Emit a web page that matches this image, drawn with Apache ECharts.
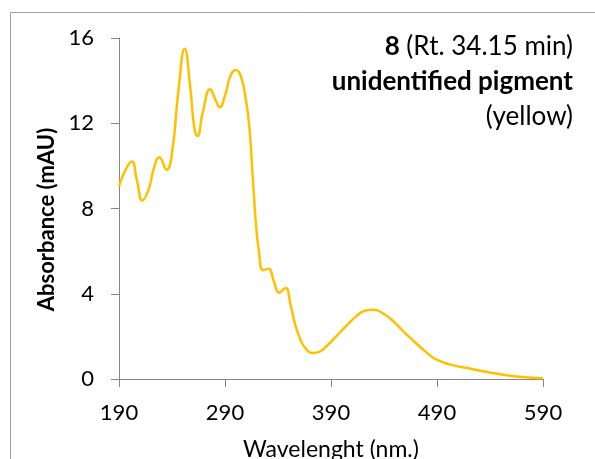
<!DOCTYPE html>
<html>
<head>
<meta charset="utf-8">
<script src="https://cdn.jsdelivr.net/npm/echarts@6/dist/echarts.min.js"></script>
<style>
  html, body { margin: 0; padding: 0; background: #fff; }
  #chart { width: 595px; height: 459px; }
</style>
</head>
<body>
<div id="chart"></div>
<script>
// wavelength (nm) and absorbance (mAU)
const wavelength = [190, 196, 202, 207, 212, 218, 223, 228, 235, 240, 246, 252, 257, 261, 264, 269, 276, 281, 285, 290,
  295, 300, 305, 310, 313, 316, 319, 322, 326, 331, 336, 341, 347, 352, 356, 360, 365, 373, 379, 384,
  394, 404, 414, 422, 430, 440, 450, 460, 470, 480, 490, 505, 520, 535, 550, 565, 580, 590]
const absorbance = [9.05, 9.8, 10.2, 9.3, 8.38, 8.9, 9.9, 10.4, 9.82, 10.6, 13.5, 15.5, 13.8, 11.8, 11.4, 12.5, 13.6, 13.1, 12.75, 13.3,
  14.2, 14.5, 14.2, 13.0, 11.8, 9.6, 7.4, 6.0, 5.1, 5.17, 4.6, 4.05, 4.27, 3.45, 2.6, 2.0, 1.5, 1.22, 1.27, 1.45,
  1.95, 2.47, 2.95, 3.2, 3.25, 3.05, 2.65, 2.15, 1.69, 1.25, 0.9, 0.65, 0.5, 0.35, 0.22, 0.12, 0.06, 0.04]
const xTicks = [190, 290, 390, 490, 590]

const font = 'Lato, "Open Sans", sans-serif'
const axisGray = '#878787'

const chart = echarts.init(document.getElementById('chart'))

chart.setOption({
  backgroundColor: '#fff',
  animation: false,
  grid: { left: 119, right: 52, top: 38, bottom: 80, outerBoundsMode: 'none', containLabel: false },
  graphic: [
    {
      type: 'rect',
      shape: { x: 10.5, y: 12.5, width: 620, height: 480 },
      style: { fill: 'none', stroke: '#a0a0a0', lineWidth: 1 },
      silent: true,
    },
    {
      type: 'text',
      x: 573,
      y: 29,
      style: {
        text: '{b|8} (Rt. 34.15 min)\n{b|unidentified pigment}\n(yellow)',
        align: 'right',
        font: '26px ' + font,
        fill: '#000',
        lineHeight: 35,
        rich: {
          b: { fontWeight: 'bold', fontSize: 26, fontFamily: font, lineHeight: 35 },
        },
      },
    },
  ],
  xAxis: {
    type: 'value',
    min: 190,
    max: 590,
    name: 'Wavelenght (nm.)',
    nameLocation: 'middle',
    nameGap: 59,
    nameTextStyle: { fontFamily: font, fontSize: 23, color: '#000' },
    splitLine: { show: false },
    axisLine: { onZero: false, lineStyle: { color: axisGray, width: 1 } },
    axisTick: { show: true, length: 8, lineStyle: { color: axisGray }, customValues: xTicks },
    axisLabel: { fontFamily: font, fontSize: 22, color: '#000', margin: 23, customValues: xTicks },
  },
  yAxis: {
    type: 'value',
    min: 0,
    max: 16,
    interval: 4,
    name: 'Absorbance (mAU)',
    nameLocation: 'middle',
    nameGap: 55,
    nameTextStyle: { fontFamily: font, fontSize: 22, fontWeight: 'bold', color: '#000', padding: [0, 22, 0, 0] },
    splitLine: { show: false },
    axisLine: { show: true, lineStyle: { color: axisGray, width: 1 } },
    axisTick: { show: true, length: 8, lineStyle: { color: axisGray } },
    axisLabel: { fontFamily: font, fontSize: 22, color: '#000', margin: 25 },
  },
  series: [
    {
      type: 'line',
      data: wavelength.map((w, i) => [w, absorbance[i]]),
      smooth: 0.5,
      showSymbol: false,
      lineStyle: { color: '#FFC000', width: 2.5 },
      itemStyle: { color: '#FFC000' },
    },
  ],
})
</script>
</body>
</html>
